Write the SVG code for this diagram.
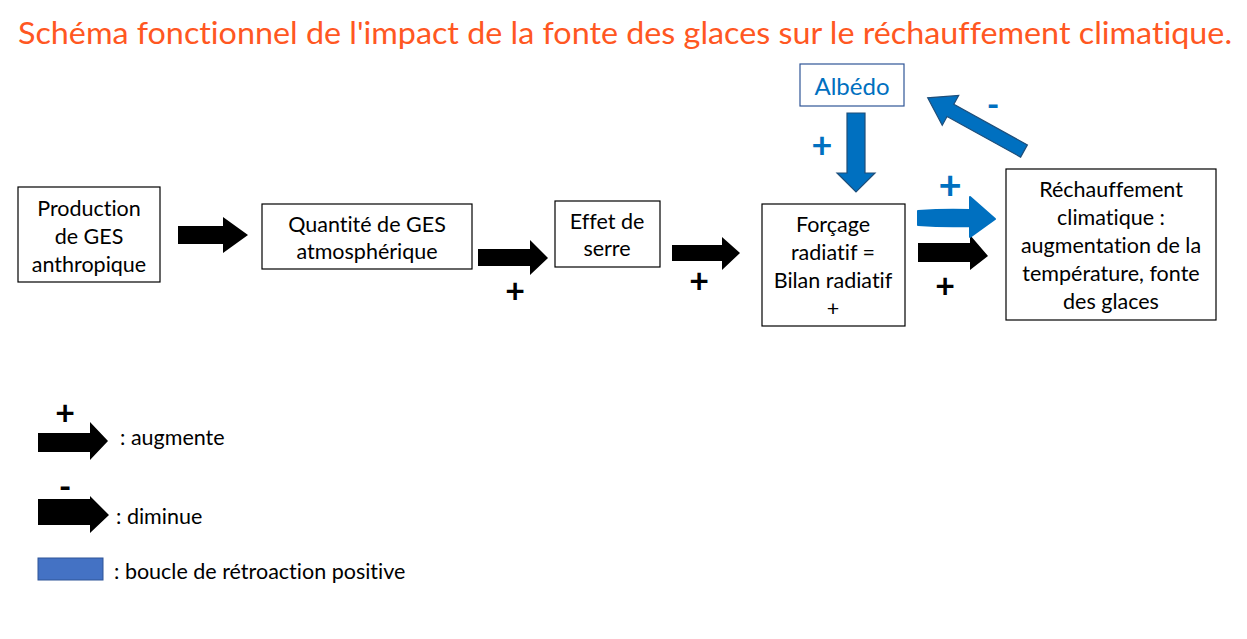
<svg xmlns="http://www.w3.org/2000/svg" width="1247" height="639" viewBox="0 0 1247 639">
<style>
text{font-variant-ligatures:none;font-feature-settings:"liga" 0}
.t{font-family:Lato,"Open Sans","Liberation Sans",sans-serif;font-size:21.5px;fill:#000;text-anchor:middle;dominant-baseline:central}
.box{fill:#fff;stroke:#000;stroke-width:1.2}
.blk{fill:#000}
.sign{font-family:Lato,"Liberation Sans",sans-serif;font-size:34px;font-weight:700;text-anchor:middle;dominant-baseline:central}
.leg{font-family:Lato,"Open Sans","Liberation Sans",sans-serif;font-size:21.5px;fill:#000;dominant-baseline:central}
</style>
<rect width="1247" height="639" fill="#fff"/>
<text x="18" y="32" font-family="Lato,'Open Sans','Liberation Sans',sans-serif" font-size="31" fill="#FF5722" dominant-baseline="central" textLength="1214" lengthAdjust="spacingAndGlyphs">Schéma fonctionnel de l'impact de la fonte des glaces sur le réchauffement climatique.</text>

<g id="production">
<rect class="box" x="18" y="187" width="142" height="95"/>
<text class="t" x="89" y="208">Production</text>
<text class="t" x="89" y="236">de GES</text>
<text class="t" x="89" y="264">anthropique</text>
</g>
<g id="quantite">
<rect class="box" x="262" y="204" width="210" height="65"/>
<text class="t" x="367" y="224">Quantité de GES</text>
<text class="t" x="367" y="251">atmosphérique</text>
</g>
<g id="effet">
<rect class="box" x="555" y="201" width="105" height="66"/>
<text class="t" x="607" y="221">Effet de</text>
<text class="t" x="607" y="248">serre</text>
</g>
<g id="forcage">
<rect class="box" x="762" y="204" width="143" height="122"/>
<text class="t" x="833" y="224">Forçage</text>
<text class="t" x="833" y="252">radiatif =</text>
<text class="t" x="833" y="280">Bilan radiatif</text>
<text class="t" x="833" y="308" font-size="17">+</text>
</g>
<g id="rechauffement">
<rect class="box" x="1006" y="169" width="210" height="151"/>
<text class="t" x="1111" y="189">Réchauffement</text>
<text class="t" x="1111" y="217">climatique :</text>
<text class="t" x="1111" y="245">augmentation de la</text>
<text class="t" x="1111" y="273">température, fonte</text>
<text class="t" x="1111" y="301">des glaces</text>
</g>
<g id="albedo">
<rect x="800" y="64" width="104" height="42" fill="#fff" stroke="#2F5597" stroke-width="1.2"/>
<text class="t" x="852" y="85" style="fill:#0070C0;font-size:24px">Albédo</text>
</g>

<g id="connectors">
<path class="blk" d="M178,226 H223 V217 L248,235 L223,253 V244 H178 Z"/>
<path class="blk" d="M478,249 H530 V240 L548,258 L530,275 V266 H478 Z"/>
<text class="sign" x="515" y="289">+</text>
<path class="blk" d="M672,245 H722 V237 L740,253 L722,270 V261 H672 Z"/>
<text class="sign" x="699" y="279">+</text>
<path class="blk" d="M918,243 H970 V235 L988,256 L970,270 V262 H918 Z"/>
<text class="sign" x="945" y="284">+</text>
<path d="M918,211 Q945,209 970,210 V197 L995,219 L970,237 V226 Q945,227 918,225 Z" fill="#0070C0" stroke="#0070C0" stroke-width="2" stroke-linejoin="round"/>
<text class="sign" x="950" y="184" style="fill:#0070C0;font-size:40px">+</text>
<path d="M847,113 H865 V173 H875 L856,192 L837,173 H847 Z" fill="#0070C0" stroke="#1F4E79" stroke-width="1.2"/>
<text class="sign" x="822" y="144" style="fill:#0070C0;font-size:36px">+</text>
<path transform="translate(1024,151) rotate(208.9)" d="M0,-7 H84 V-17 L110,0 L84,17 V7 H0 Z" fill="#0070C0" stroke="#1F4E79" stroke-width="1.2"/>
<text class="sign" x="993" y="103" style="fill:#0070C0">-</text>
</g>

<g id="legend">
<text class="sign" x="65" y="411">+</text>
<path class="blk" d="M38,433 H90 V422 L108,441 L90,460 V452 H38 Z"/>
<text class="leg" x="120" y="437">: augmente</text>
<text class="sign" x="65" y="485">-</text>
<path class="blk" d="M38,499 H90 V496 L109,515 L90,533 V525 H38 Z"/>
<text class="leg" x="116" y="516">: diminue</text>
<rect x="38" y="558" width="65" height="22" fill="#4472C4" stroke="#2F5597" stroke-width="1"/>
<text class="leg" x="114" y="571">: boucle de rétroaction positive</text>
</g>
</svg>
